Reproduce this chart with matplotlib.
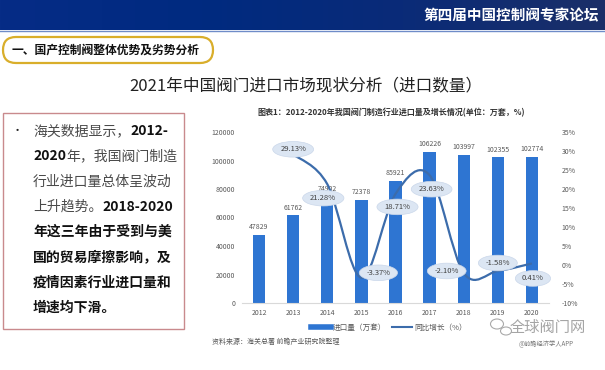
import numpy as np
import matplotlib.pyplot as plt
from matplotlib.patches import FancyBboxPatch, Rectangle, PathPatch, Ellipse
from matplotlib.path import Path
from matplotlib.lines import Line2D
from matplotlib.colors import LinearSegmentedColormap

plt.rcParams['font.family'] = ['Noto Sans CJK SC', 'DejaVu Sans']

# data
years = ['2012', '2013', '2014', '2015', '2016', '2017', '2018', '2019', '2020']
imports = [47829, 61762, 74902, 72378, 85921, 106226, 103997, 102355, 102774]
growth = [29.13, 21.28, -3.37, 18.71, 23.63, -2.10, -1.58, 0.41]  # 2013-2020
left_ticks = [0, 20000, 40000, 60000, 80000, 100000, 120000]
right_ticks = [-10, -5, 0, 5, 10, 15, 20, 25, 30, 35]

header_text = '第四届中国控制阀专家论坛'
section_text = '一、国产控制阀整体优势及劣势分析'
title_text = '2021年中国阀门进口市场现状分析（进口数量）'
chart_title = '图表1：2012-2020年我国阀门制造行业进口量及增长情况(单位：万套，%)'
source_text = '资料来源：海关总署 前瞻产业研究院整理'
legend_labels = ['进口量（万套）', '同比增长（%）']

# body text: list of lines, each a list of (text, bold)
body = [
    [('海关数据显示，', False), ('2012-', True)],
    [('2020', True), ('年，我国阀门制造', False)],
    [('行业进口量总体呈波动', False)],
    [('上升趋势。', False), ('2018-2020', True)],
    [('年这三年由于受到与美', True)],
    [('国的贸易摩擦影响，及', True)],
    [('疫情因素行业进口量和', True)],
    [('增速均下滑。', True)],
]

# label offsets for the growth bubbles (pixels: dx, dy up)
bubble_offsets = [(0, 5), (-4, -14), (17, 5), (2, -13), (2, -14), (-17, 2), (0, 8), (1, -15)]

bar_color = '#2E75D2'
line_color = '#3C6CAB'
grey = '#595959'

fig = plt.figure(figsize=(6.05, 3.7), dpi=100)

# background layer in pixel coords
bg = fig.add_axes([0, 0, 1, 1], zorder=0)
grad = np.linspace(0, 1, 256).reshape(1, -1)
cmap = LinearSegmentedColormap.from_list('hdr', ['#062c86', '#002a80', '#0a2b78', '#1b2f68'])
bg.imshow(grad, extent=[0, 605, 30, 0], aspect='auto', cmap=cmap)
bg.set_xlim(0, 605)
bg.set_ylim(370, 0)
bg.axis('off')
bg.plot([0, 605], [30.5, 30.5], color='#6f8cc8', lw=1)
bg.text(599, 15, header_text, color='white', fontsize=10.5, fontweight='bold',
        ha='right', va='center')

pill = FancyBboxPatch((3, 37), 210, 26, boxstyle='round,pad=0,rounding_size=13',
                      fc='white', ec='#D9AE2B', lw=1.6)
bg.add_patch(pill)
bg.text(12, 50, section_text, fontsize=8.5, fontweight='bold', va='center', color='#111111')

bg.text(306, 86, title_text, fontsize=12, ha='center', va='center', color='#222222')

# left text box
bg.add_patch(Rectangle((3, 113), 181, 216, fill=False, ec='#c98a8d', lw=1))
bg.text(12, 131, '•', fontsize=8, va='center', color='#222222')
for i, line in enumerate(body):
    y = 138 + 25.2 * i
    prev = None
    for seg, bold in line:
        kw = dict(fontsize=10, fontweight='bold' if bold else 'normal',
                  color='#111111' if bold else '#4a4a4a', va='bottom', ha='left')
        if prev is None:
            prev = bg.text(33, y, seg, **kw)
        else:
            prev = bg.annotate(seg, xy=(1, 0), xycoords=prev, **kw)

bg.text(391, 113, chart_title, fontsize=5.8, fontweight='bold', ha='center', va='center',
        color='#333333')
bg.text(212, 342, source_text, fontsize=5, color=grey, va='center')

# watermark
bg.text(548, 327, '全球阀门网', fontsize=11, color='#a5a5a5', ha='center', va='center')
bg.text(546, 344, '@前瞻经济学人APP', fontsize=4.5, color='#777777', ha='center', va='center')
bg.add_patch(Ellipse((497, 324), 13, 10, fc='none', ec='#aaaaaa', lw=0.8))
bg.add_patch(Ellipse((506, 331), 11, 8, fc='none', ec='#aaaaaa', lw=0.8))

# chart
ax = fig.add_axes([242 / 605, 67 / 370, 307 / 605, 171 / 370], zorder=1)
ax.set_facecolor('none')
x = np.arange(len(years))
bars = ax.bar(x, imports, width=0.36, color=bar_color, zorder=2)
ax.set_xlim(-0.5, len(years) - 0.5)
ax.set_ylim(left_ticks[0], left_ticks[-1])
ax.set_yticks(left_ticks, [str(v) for v in left_ticks])
ax.set_xticks(x, years)
ax.tick_params(length=0, labelsize=5, labelcolor=grey)
ax.tick_params(axis='x', pad=4.5)
ax.tick_params(axis='y', pad=5)
for s in ['top', 'left', 'right']:
    ax.spines[s].set_visible(False)
ax.spines['bottom'].set_color('#D9D9D9')
ax.spines['bottom'].set_linewidth(0.8)
ax.bar_label(bars, labels=[str(v) for v in imports], padding=2.5, fontsize=5, color=grey)

ax2 = ax.twinx()
ax2.set_ylim(right_ticks[0], right_ticks[-1])
ax2.set_yticks(right_ticks, [f'{v}%' for v in right_ticks])
ax2.tick_params(length=0, labelsize=5, labelcolor=grey, pad=9)
for s in ax2.spines.values():
    s.set_visible(False)

# smooth growth line (Catmull-Rom through the points)
pts = np.column_stack([x[1:], growth]).astype(float)
n = len(pts)
verts = [pts[0]]
codes = [Path.MOVETO]
for i in range(n - 1):
    p0 = pts[max(i - 1, 0)]
    p1 = pts[i]
    p2 = pts[i + 1]
    p3 = pts[min(i + 2, n - 1)]
    verts += [p1 + (p2 - p0) / 6, p2 - (p3 - p1) / 6, p2]
    codes += [Path.CURVE4] * 3
ax2.add_patch(PathPatch(Path(verts, codes), fill=False, ec=line_color, lw=1.6, zorder=3))

for xi, gi, (dx, dy) in zip(x[1:], growth, bubble_offsets):
    ax2.annotate(f'{gi:.2f}%', (xi, gi), xytext=(dx * 0.72, dy * 0.72),
                 textcoords='offset points', ha='center', va='center',
                 fontsize=5.5, color='#404040', zorder=4,
                 bbox=dict(boxstyle='ellipse,pad=0.2', fc='#DCE6F3', ec='#CAD7EA', lw=0.5))

handles = [Line2D([], [], color=bar_color, lw=4), Line2D([], [], color=line_color, lw=1.5)]
fig.legend(handles, legend_labels, loc='center', bbox_to_anchor=(389 / 605, 1 - 328 / 370),
           ncol=2, frameon=False, fontsize=5.5, labelcolor=grey, handlelength=2.6,
           columnspacing=0.8, handletextpad=0.3)

fig.savefig('out.png', dpi=100)
